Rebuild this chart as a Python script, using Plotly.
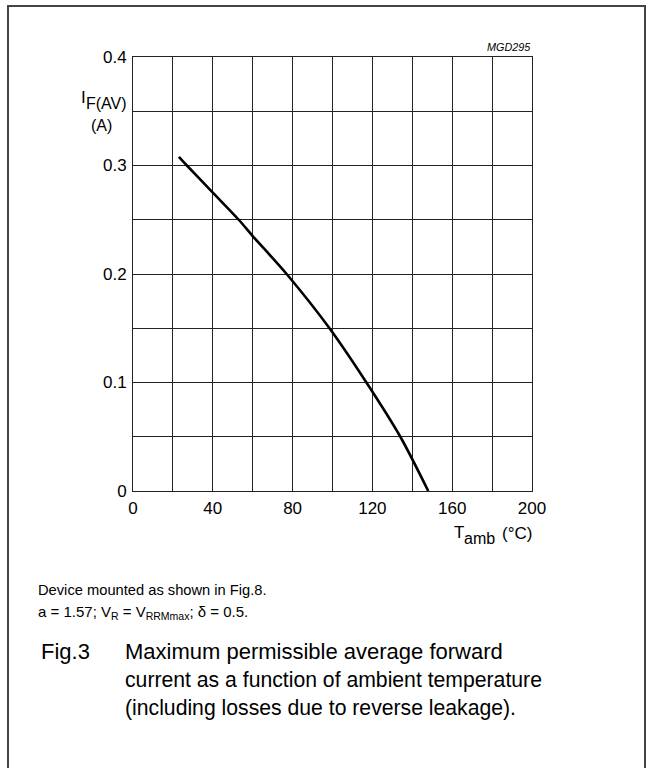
import plotly.graph_objects as go

# ---- data ----
t_amb = [23, 27, 40, 53, 60, 77, 98.5, 117, 134, 148]
i_fav = [0.308, 0.300, 0.275, 0.250, 0.235, 0.200, 0.150, 0.100, 0.050, 0.0]

x_ticks = [0, 40, 80, 120, 160, 200]
x_ticklabels = ["0", "40", "80", "120", "160", "200"]
y_ticks = [0, 0.1, 0.2, 0.3, 0.4]
y_ticklabels = ["0", "0.1", "0.2", "0.3", "0.4"]

FONT = "Liberation Sans, Arial, sans-serif"
W, H = 652, 768
L, R, T, B = 133, 120, 57, 277
PW, PH = W - L - R, H - T - B


def px(x):
    return (x - L) / PW


def py(y):
    return (H - B - y) / PH


fig = go.Figure()
fig.add_trace(go.Scatter(x=t_amb, y=i_fav, mode="lines",
                         line=dict(color="black", width=2.6, shape="spline", smoothing=0.8),
                         hoverinfo="skip", showlegend=False))

axis_common = dict(showline=True, linecolor="#222", linewidth=1, mirror=True,
                   showgrid=True, gridcolor="#222", gridwidth=1, zeroline=False,
                   ticks="", tickfont=dict(family=FONT, size=17, color="black"))

fig.update_xaxes(range=[0, 200], tickvals=x_ticks, ticktext=x_ticklabels,
                 minor=dict(dtick=20, showgrid=True, gridcolor="#222", gridwidth=1, ticks=""),
                 ticklabelstandoff=2, **axis_common)
fig.update_yaxes(range=[0, 0.4], tickvals=y_ticks, ticktext=y_ticklabels,
                 minor=dict(dtick=0.05, showgrid=True, gridcolor="#222", gridwidth=1, ticks=""),
                 ticklabelstandoff=2, **axis_common)

ann = []


def text(x, y, s, size, xanchor="left", yanchor="middle"):
    ann.append(dict(x=px(x), y=py(y), xref="paper", yref="paper", text=s, showarrow=False,
                    xanchor=xanchor, yanchor=yanchor, align="left", borderpad=0,
                    font=dict(family=FONT, size=size, color="black")))


text(532, 47, "<i>MGD295</i>", 10.8, xanchor="right")
# y-axis title: I with F(AV) lowered, unit below
text(87, 97, "I", 17, xanchor="right")
text(128, 103, "F(AV)", 16, xanchor="right")
text(113, 125, "(A)", 16, xanchor="right")
# x-axis title: T with amb lowered, unit after
text(453, 532, "T", 17, xanchor="left")
text(463, 538, "amb", 16, xanchor="left")
text(533, 533, "(°C)", 17, xanchor="right")
# notes and caption
text(37, 590, "Device mounted as shown in Fig.8.", 14.7)
text(37, 612, "a = 1.57; V<sub>R</sub> = V<sub>RRMmax</sub>; δ = 0.5.", 15)
text(40, 651, "Fig.3", 22)
text(124, 651, "Maximum permissible average forward", 22)
text(124, 680, "current as a function of ambient temperature", 21.2)
text(124, 708, "(including losses due to reverse leakage).", 21.2)

fig.update_layout(
    width=W, height=H,
    margin=dict(l=L, r=R, t=T, b=B, autoexpand=False),
    paper_bgcolor="white", plot_bgcolor="white",
    annotations=ann,
    shapes=[dict(type="rect", xref="paper", yref="paper",
                 x0=px(8), x1=px(645), y0=py(6), y1=py(790),
                 line=dict(color="#444", width=2), fillcolor="rgba(0,0,0,0)", layer="above")],
    showlegend=False,
)

fig.write_html("out.html", config={"displayModeBar": False},
               post_script="document.body.style.margin='0';")
